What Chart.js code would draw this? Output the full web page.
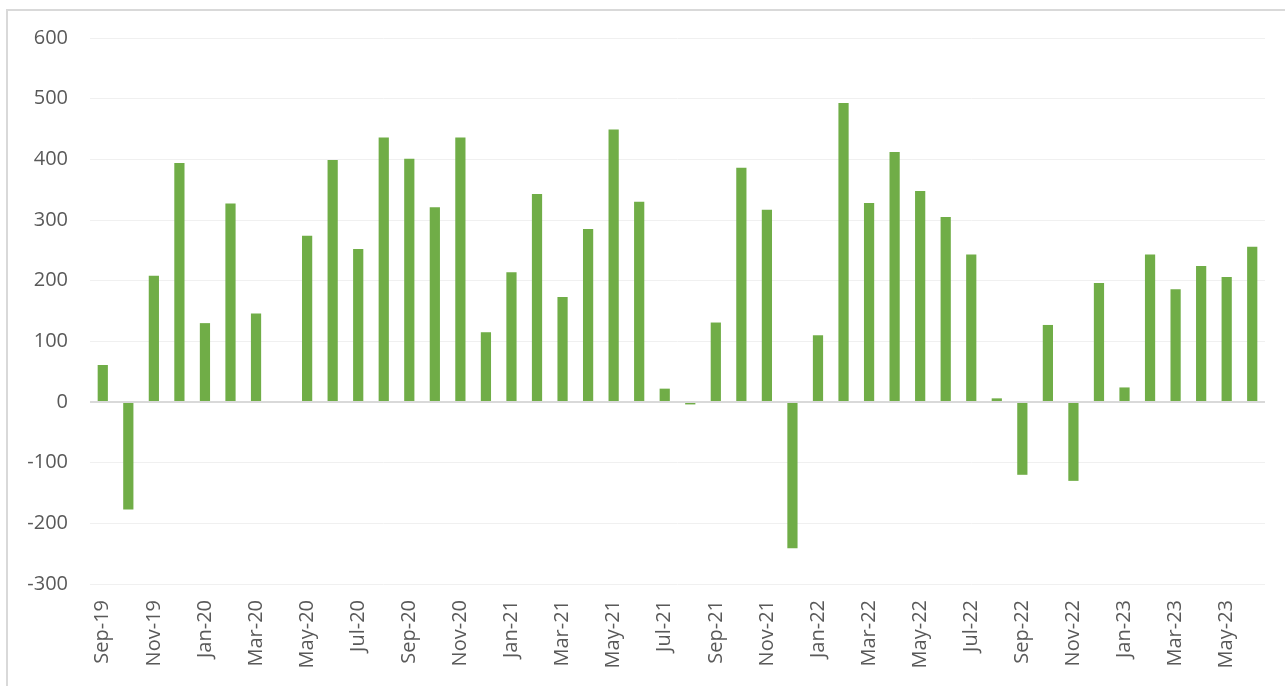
<!DOCTYPE html>
<html>
<head>
<meta charset="utf-8">
<script src="https://cdn.jsdelivr.net/npm/chart.js@4/dist/chart.umd.min.js"></script>
<style>
  html, body { margin: 0; padding: 0; background: #ffffff; overflow: hidden; }
  #frame { position: absolute; left: 6px; top: 9px; width: 1400px; height: 800px; border: 2px solid #d9d9d9; box-sizing: border-box; }
  #wrap { position: absolute; left: 0; top: 0; width: 1285px; height: 686px; }
</style>
</head>
<body>
<div id="frame"></div>
<div id="wrap"><canvas id="c" width="1285" height="686"></canvas></div>
<script>
const categories = [
  "Sep-19","Oct-19","Nov-19","Dec-19","Jan-20","Feb-20","Mar-20","Apr-20","May-20","Jun-20","Jul-20","Aug-20",
  "Sep-20","Oct-20","Nov-20","Dec-20","Jan-21","Feb-21","Mar-21","Apr-21","May-21","Jun-21","Jul-21","Aug-21",
  "Sep-21","Oct-21","Nov-21","Dec-21","Jan-22","Feb-22","Mar-22","Apr-22","May-22","Jun-22","Jul-22","Aug-22",
  "Sep-22","Oct-22","Nov-22","Dec-22","Jan-23","Feb-23","Mar-23","Apr-23","May-23","Jun-23"
];
const values = [
  61, -177, 208, 394, 130, 327, 146, null, 274, 399, 252, 436,
  401, 321, 436, 115, 214, 343, 173, 285, 449, 330, 22, -4,
  131, 386, 317, -241, 110, 493, 328, 412, 348, 305, 243, 6,
  -120, 127, -130, 196, 24, 243, 186, 224, 206, 256
];
const yTicks = [600, 500, 400, 300, 200, 100, 0, -100, -200, -300];

new Chart(document.getElementById('c'), {
  type: 'bar',
  data: {
    labels: categories,
    datasets: [{
      data: values,
      backgroundColor: '#70AD47',
      borderWidth: 0,
      categoryPercentage: 1.0,
      barPercentage: 0.4
    }]
  },
  options: {
    responsive: false,
    animation: false,
    devicePixelRatio: 1,
    layout: { padding: { left: 0, right: 20, top: 38, bottom: 0 } },
    plugins: { legend: { display: false }, tooltip: { enabled: false } },
    scales: {
      x: {
        grid: { display: false, drawTicks: false },
        border: { display: false },
        ticks: {
          autoSkip: false,
          maxRotation: 90,
          minRotation: 90,
          padding: 16,
          color: '#595959',
          font: { family: 'Open Sans', size: 20 },
          callback: function(v, i) { return i % 2 === 0 ? categories[i] : ''; }
        },
        afterFit: function(s) { s.height = 686 - 584; s.paddingRight = 0; s.paddingLeft = 0; }
      },
      y: {
        min: -300,
        max: 600,
        afterBuildTicks: function(s) { s.ticks = yTicks.map(v => ({ value: v })); },
        grid: {
          drawTicks: false,
          color: function(ctx) { return ctx.tick && ctx.tick.value === 0 ? '#d9d9d9' : '#f0f0f0'; },
          lineWidth: function(ctx) { return ctx.tick && ctx.tick.value === 0 ? 2 : 1; }
        },
        border: { display: false },
        ticks: {
          padding: 22,
          color: '#595959',
          font: { family: 'Open Sans', size: 20 }
        },
        afterFit: function(s) { s.width = 90; s.paddingTop = 0; s.paddingBottom = 0; }
      }
    }
  }
});
</script>
</body>
</html>
